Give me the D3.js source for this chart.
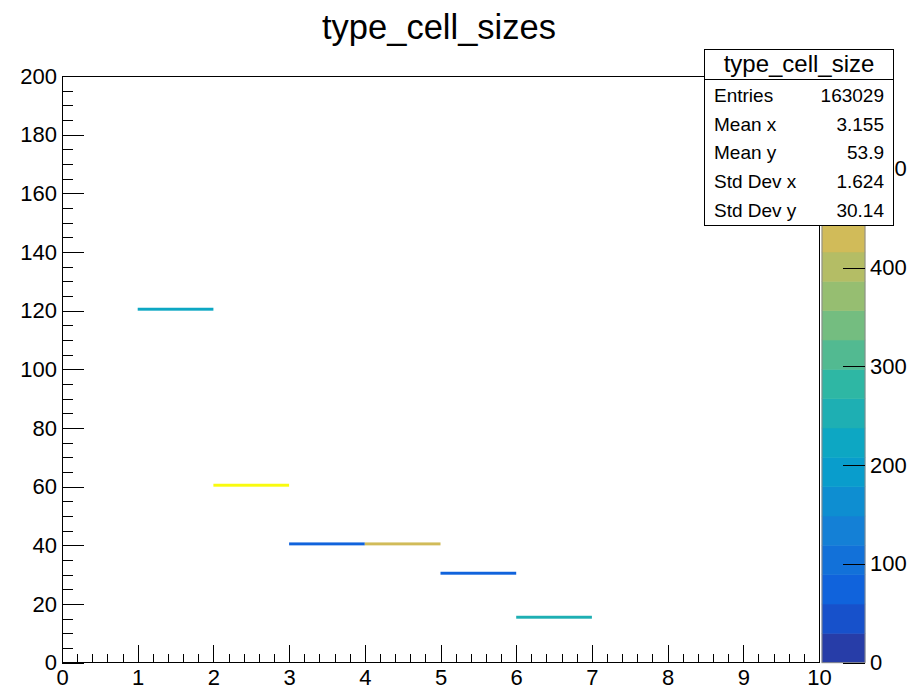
<!DOCTYPE html>
<html>
<head>
<meta charset="utf-8">
<script src="https://cdn.jsdelivr.net/npm/d3@7"></script>
<style>
  body { margin: 0; background: #fff; }
  text { font-family: "Liberation Sans", Arial, Helvetica, sans-serif; fill: #000; }
</style>
</head>
<body>
<script>
// histogram cells (x bin low edge, y bin low edge, content)
var cellX = [1, 2, 3, 4, 5, 6];
var cellY = [120, 60, 40, 40, 30, 15];
var cellZ = [222, 594, 88, 430, 78, 252];

// stats box
var statsTitle = "type_cell_size";
var statsLabels = ["Entries", "Mean x", "Mean y", "Std Dev x", "Std Dev y"];
var statsValues = ["163029", "3.155", "53.9", "1.624", "30.14"];

var xTicks = [0, 1, 2, 3, 4, 5, 6, 7, 8, 9, 10];
var yTicks = [0, 20, 40, 60, 80, 100, 120, 140, 160, 180, 200];
var zTicks = [0, 100, 200, 300, 400, 500];

// kBird palette stops
var birdStops = [0.0000, 0.1250, 0.2500, 0.3750, 0.5000, 0.6250, 0.7500, 0.8750, 1.0000];
var birdR = [0.2082, 0.0592, 0.0780, 0.0232, 0.1802, 0.5301, 0.8186, 0.9956, 0.9764];
var birdG = [0.1664, 0.3599, 0.5041, 0.6419, 0.7178, 0.7492, 0.7328, 0.7862, 0.9832];
var birdB = [0.5293, 0.8684, 0.8385, 0.7914, 0.6425, 0.4662, 0.3499, 0.1968, 0.0539];

window.onload = draw();

function draw(){
    var width = 919, height = 689;
    var left = 62, right = 819, top = 76, bottom = 662.7;
    var nContours = 20, nColors = 255;

    var svg = d3.select("body").append("svg")
        .attr("width", width)
        .attr("height", height);

    var x = d3.scaleLinear().domain([0, 10]).range([left, right]);
    var y = d3.scaleLinear().domain([0, 200]).range([bottom, top]);
    var zmax = d3.max(cellZ);
    var z = d3.scaleLinear().domain([0, zmax]).range([bottom, top]);

    // palette of 255 colours like ROOT's gradient table
    var birdColors = birdStops.map(function(s, i){
        return d3.rgb(birdR[i] * 255, birdG[i] * 255, birdB[i] * 255);
    });
    var grad = d3.scaleLinear().domain(birdStops).range(birdColors).interpolate(d3.interpolateRgb);
    var palette = d3.range(nColors).map(function(j){ return grad(j / (nColors - 1)); });

    function levelColor(level){
        var idx = Math.floor((level + 0.99) * nColors / nContours);
        if (idx > nColors - 1) idx = nColors - 1;
        return palette[idx];
    }
    function cellColor(v){
        var level = Math.floor(0.01 + v * nContours / zmax);
        return levelColor(level);
    }

    // title
    svg.append("text")
        .attr("x", 439)
        .attr("y", 39)
        .attr("text-anchor", "middle")
        .style("font-size", "34.5px")
        .text("type_cell_sizes");

    // cells
    svg.append("g").selectAll("rect")
        .data(cellX)
        .enter()
        .append("rect")
        .attr("x", function(d){ return x(d); })
        .attr("width", function(d){ return x(d + 1) - x(d); })
        .attr("y", function(d, i){ return y(cellY[i] + 1); })
        .attr("height", function(d, i){ return y(cellY[i]) - y(cellY[i] + 1); })
        .attr("fill", function(d, i){ return cellColor(cellZ[i]); });

    // frame
    svg.append("rect")
        .attr("x", left).attr("y", top)
        .attr("width", right - left).attr("height", bottom - top)
        .attr("fill", "none").attr("stroke", "#000").attr("stroke-width", 1)
        .attr("shape-rendering", "crispEdges");

    // x axis: major + minor ticks pointing up
    var xMinor = svg.append("g")
        .attr("transform", "translate(0," + bottom + ")")
        .call(d3.axisBottom(x).tickValues(d3.range(0, 10.001, 0.2)).tickSize(-9).tickFormat(""));
    var xAxis = svg.append("g")
        .attr("transform", "translate(0," + bottom + ")")
        .call(d3.axisBottom(x).tickValues(xTicks).tickSize(-18).tickPadding(6.5).tickFormat(d3.format("d")));

    // y axis: major + minor ticks pointing right
    var yMinor = svg.append("g")
        .attr("transform", "translate(" + left + ",0)")
        .call(d3.axisLeft(y).tickValues(d3.range(0, 200.001, 5)).tickSize(-11).tickFormat(""));
    var yAxis = svg.append("g")
        .attr("transform", "translate(" + left + ",0)")
        .call(d3.axisLeft(y).tickValues(yTicks).tickSize(-22).tickPadding(5).tickFormat(d3.format("d")));

    [xMinor, xAxis, yMinor, yAxis].forEach(function(a){
        a.selectAll("path").remove();
        a.selectAll("line").attr("stroke", "#000").attr("shape-rendering", "crispEdges");
        a.selectAll("text").style("font-size", "22px").attr("font-family", null);
    });

    // colour palette bar
    var palLeft = 822, palRight = 865;
    svg.append("g").selectAll("rect")
        .data(d3.range(nContours))
        .enter()
        .append("rect")
        .attr("x", palLeft)
        .attr("width", palRight - palLeft)
        .attr("y", function(d){ return z((d + 1) * zmax / nContours); })
        .attr("height", function(d){ return z(d * zmax / nContours) - z((d + 1) * zmax / nContours); })
        .attr("fill", function(d){ return levelColor(d); })
        .attr("stroke", function(d){ return levelColor(d); })
        .attr("stroke-width", 0.5);
    svg.append("rect")
        .attr("x", palLeft).attr("y", top)
        .attr("width", palRight - palLeft).attr("height", bottom - top)
        .attr("fill", "none").attr("stroke", "#8a8a8a").attr("stroke-width", 1);

    var zAxis = svg.append("g")
        .attr("transform", "translate(" + palRight + ",0)")
        .call(d3.axisRight(z).tickValues(zTicks).tickSize(-22).tickPadding(5).tickFormat(d3.format("d")));
    zAxis.selectAll("path").remove();
    zAxis.selectAll("line").attr("stroke", "#000").attr("shape-rendering", "crispEdges");
    zAxis.selectAll("text").style("font-size", "22px").attr("font-family", null);

    // stats box (drawn over the palette labels, as in the original)
    var sx = 704, sy = 49.5, sw = 189, sh = 176;
    var stats = svg.append("g");
    stats.append("rect")
        .attr("x", sx + 0.5).attr("y", sy)
        .attr("width", sw).attr("height", sh)
        .attr("fill", "#fff").attr("stroke", "#000").attr("stroke-width", 1);
    stats.append("line")
        .attr("x1", sx).attr("x2", sx + sw)
        .attr("y1", 79.5).attr("y2", 79.5)
        .attr("stroke", "#000");
    stats.append("text")
        .attr("x", 799).attr("y", 72)
        .attr("text-anchor", "middle")
        .style("font-size", "24px")
        .text(statsTitle);
    statsLabels.forEach(function(label, i){
        var by = 102 + i * 28.7;
        stats.append("text")
            .attr("x", 714).attr("y", by)
            .style("font-size", "19px")
            .text(label);
        stats.append("text")
            .attr("x", 884).attr("y", by)
            .attr("text-anchor", "end")
            .style("font-size", "19px")
            .text(statsValues[i]);
    });
}
</script>
</body>
</html>
